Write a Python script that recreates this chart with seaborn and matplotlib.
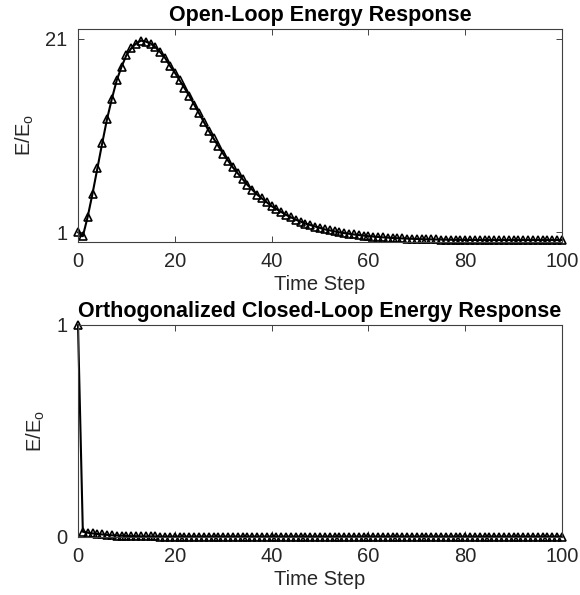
import numpy as np
import pandas as pd
import seaborn as sns
import matplotlib
matplotlib.use("Agg")
import matplotlib.pyplot as plt

time_steps = list(range(0, 101))

open_loop = [
    1.0, 0.6, 2.6, 5.0, 7.6, 10.2, 12.7, 14.8, 16.7, 18.1,
    19.3, 20.0, 20.5, 20.8, 20.7, 20.5, 20.1, 19.6, 19.0, 18.2,
    17.5, 16.7, 15.9, 15.1, 14.2, 13.3, 12.4, 11.5, 10.7, 9.9,
    9.1, 8.4, 7.7, 7.1, 6.5, 5.9, 5.4, 4.9, 4.5, 4.1,
    3.7, 3.4, 3.1, 2.8, 2.55, 2.3, 2.1, 1.9, 1.75, 1.6,
    1.45, 1.3, 1.2, 1.1, 1.0, 0.92, 0.85, 0.78, 0.72, 0.66,
    0.6, 0.56, 0.52, 0.48, 0.45, 0.42, 0.39, 0.37, 0.35, 0.33,
    0.31, 0.29, 0.28, 0.27, 0.26, 0.25, 0.24, 0.23, 0.22, 0.22,
    0.21, 0.21, 0.21, 0.2, 0.2, 0.2, 0.2, 0.2, 0.2, 0.2,
    0.2, 0.2, 0.2, 0.2, 0.2, 0.2, 0.2, 0.2, 0.2, 0.2,
    0.2,
]

closed_loop = [
    1.0, 0.025, 0.02, 0.017, 0.014, 0.012, 0.01, 0.008, 0.007, 0.006,
    0.005, 0.004, 0.004, 0.003, 0.003, 0.003, 0.003, 0.002, 0.002, 0.002,
] + [0.002] * 81

titles = ["Open-Loop Energy Response", "Orthogonalized Closed-Loop Energy Response"]
x_ticks = [0, 20, 40, 60, 80, 100]
top_yticks = [1, 21]
bottom_yticks = [0, 1]

sns.set_style("ticks")
plt.rcParams["font.family"] = ["Liberation Sans", "DejaVu Sans"]
plt.rcParams["mathtext.fontset"] = "custom"
plt.rcParams["mathtext.rm"] = "Liberation Sans"

fig = plt.figure(figsize=(5.8, 5.95), dpi=100)
ax1 = fig.add_axes([78/580, 1-242/595, 484/580, 213/595])
ax2 = fig.add_axes([78/580, 1-537/595, 484/580, 212/595])

df1 = pd.DataFrame({"t": time_steps, "E": open_loop})
df2 = pd.DataFrame({"t": time_steps, "E": closed_loop})

txt_color = "#262626"
for ax, df, title, yt, ylim in [
    (ax1, df1, titles[0], top_yticks, (0, 22)),
    (ax2, df2, titles[1], bottom_yticks, (0, 1)),
]:
    sns.lineplot(data=df, x="t", y="E", ax=ax, color="black", linewidth=1.5,
                 marker="^", markersize=5.5, markerfacecolor="none",
                 markeredgecolor="black", markeredgewidth=1.2, clip_on=False)
    ax.set_xlim(0, 100)
    ax.set_ylim(*ylim)
    ax.set_xticks(x_ticks)
    ax.set_yticks(yt)
    ax.tick_params(direction="in", length=4, width=0.6, labelsize=14.5,
                   colors=txt_color, top=True, right=True)
    ax.tick_params(axis="x", pad=7)
    ax.tick_params(axis="y", pad=7.5)
    for s in ax.spines.values():
        s.set_visible(True)
        s.set_linewidth(0.8)
        s.set_color("#404040")
    ax.set_xlabel("Time Step", fontsize=14.5, color=txt_color, labelpad=3)
    ax.set_ylabel(r"E/E$_\mathregular{o}$", fontsize=14.5, color=txt_color, labelpad=7)
    ax.set_title(title, fontsize=15.5, fontweight="bold", color="black", pad=6)

fig.savefig("out.png", dpi=100)
